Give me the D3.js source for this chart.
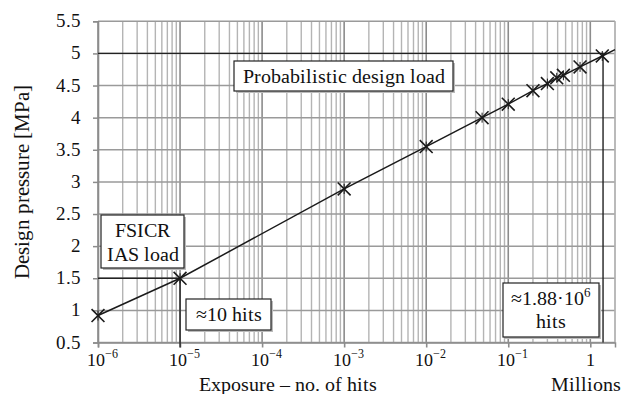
<!DOCTYPE html>
<html><head><meta charset="utf-8">
<script src="https://cdn.jsdelivr.net/npm/d3@7/dist/d3.min.js"></script>
<style>
@font-face { font-family: "ChartSerif"; src: local("Liberation Serif"), local("LiberationSerif"), local("Times New Roman"); }
</style>
</head>
<body style="margin:0">
<script>
// ---- data ----
const exposure = [1e-6, 1e-5, 1e-3, 0.01, 0.048, 0.1, 0.2, 0.3, 0.39, 0.47, 0.75, 1.4, 2.0];
const pressure = [0.92, 1.5, 2.89, 3.55, 4.0, 4.21, 4.42, 4.53, 4.62, 4.66, 4.79, 4.96, 5.06];
const markerCount = 12;
const yTicks = [0.5, 1, 1.5, 2, 2.5, 3, 3.5, 4, 4.5, 5, 5.5];
const yTickLabels = ["0.5","1","1.5","2","2.5","3","3.5","4","4.5","5","5.5"];
const xTickExp = [-6, -5, -4, -3, -2, -1, 0];
const iasExposure = 1e-5, iasPressure = 1.5;
const probExposure = 1.43, probPressure = 5;

const W = 622, H = 394;
const m = {left: 98, right: 615, top: 21.3, bottom: 342.5};
const FAM = '"ChartSerif", "Liberation Serif", "Times New Roman", "Tinos", "Nimbus Roman", "FreeSerif"';
const svg = d3.select("body").append("svg").attr("width", W).attr("height", H)
  .style("font-family", FAM);

function serif(sel, size) {
  return sel.style("font-family", FAM).attr("font-size", size).attr("fill", "#111");
}

const x = d3.scaleLog().domain([1e-6, 2]).range([m.left, m.right]);
const y = d3.scaleLinear().domain([0.5, 5.5]).range([m.bottom, m.top]);

// minor/major vertical grid
const vgrid = [];
for (let e = -6; e <= 0; e++) for (let k = 1; k <= 9; k++) {
  const v = k * Math.pow(10, e);
  if (v <= 2.0001) vgrid.push({v, major: k === 1});
}
const g = svg.append("g");
g.selectAll("line.vg").data(vgrid).join("line")
  .attr("x1", d => x(d.v)).attr("x2", d => x(d.v))
  .attr("y1", m.top).attr("y2", m.bottom)
  .attr("stroke", d => d.major ? "#8c8c8c" : "#b4b4b4")
  .attr("stroke-width", d => d.major ? 1.6 : 1.4);
g.selectAll("line.hg").data(yTicks).join("line")
  .attr("x1", m.left).attr("x2", m.right)
  .attr("y1", d => y(d)).attr("y2", d => y(d))
  .attr("stroke", "#9a9a9a").attr("stroke-width", 1.5);
g.append("line").attr("x1", m.right).attr("x2", m.right).attr("y1", m.top).attr("y2", m.bottom)
  .attr("stroke", "#b4b4b4").attr("stroke-width", 1.4);

// y axis (lines from d3 axis, labels as plain text)
const yAxis = d3.axisLeft(y).tickValues(yTicks).tickFormat("").tickSize(5);
const ya = svg.append("g").attr("transform", `translate(${m.left},0)`).call(yAxis);
ya.select(".domain").attr("stroke", "#8c8c8c").attr("stroke-width", 1.6);
ya.selectAll(".tick line").attr("stroke", "#8c8c8c").attr("stroke-width", 1.5);
yTicks.forEach((v, i) => {
  serif(svg.append("text").attr("x", m.left - 17).attr("y", y(v) + 6).attr("text-anchor", "end"), 19)
    .text(yTickLabels[i]);
});

// x axis
const xAxis = d3.axisBottom(x).tickValues(xTickExp.map(e => Math.pow(10, e))).tickFormat("").tickSize(5);
const xa = svg.append("g").attr("transform", `translate(0,${m.bottom})`).call(xAxis);
xa.select(".domain").attr("stroke", "#8c8c8c").attr("stroke-width", 1.5);
xa.selectAll(".tick line").attr("stroke", "#8c8c8c").attr("stroke-width", 1.6);
xTickExp.forEach(e => {
  const t = serif(svg.append("text").attr("x", x(Math.pow(10, e)) + (e === 0 ? 0 : 4)).attr("y", 366)
    .attr("text-anchor", "middle"), 18);
  if (e === 0) { t.text("1"); }
  else {
    t.append("tspan").text("10");
    t.append("tspan").attr("dy", -8).attr("font-size", 12).text("\u2212" + (-e));
  }
});

// reference lines
const ref = svg.append("g").attr("stroke", "#222").attr("stroke-width", 1.4).attr("fill", "none");
ref.append("path").attr("d", `M${x(1e-6)},${y(iasPressure)}H${x(iasExposure)}V${y(0.5)+5}`);
ref.append("path").attr("d", `M${x(1e-6)},${y(probPressure)}H${x(probExposure)}V${y(0.5)}`);

// data line
const pts = exposure.map((v, i) => [v, pressure[i]]);
svg.append("path").datum(pts)
  .attr("d", d3.line().x(d => x(d[0])).y(d => y(d[1])))
  .attr("fill", "none").attr("stroke", "#1a1a1a").attr("stroke-width", 1.5);
const mk = svg.append("g").selectAll("g").data(pts.slice(0, markerCount)).join("g")
  .attr("transform", d => `translate(${x(d[0])},${y(d[1])})`);
mk.append("path").attr("d", d3.symbol(d3.symbolTimes, 110))
  .attr("fill", "none").attr("stroke", "#1a1a1a").attr("stroke-width", 1.6);
mk.append("path").attr("d", "M0,-5V5")
  .attr("fill", "none").attr("stroke", "#1a1a1a").attr("stroke-width", 1);

// annotation boxes
function box(x0, y0, w, h, lines) {
  const b = svg.append("g");
  b.append("rect").attr("x", x0 + 2).attr("y", y0 + 2).attr("width", w).attr("height", h)
    .attr("fill", "#bbb");
  b.append("rect").attr("x", x0).attr("y", y0).attr("width", w).attr("height", h)
    .attr("fill", "#fff").attr("stroke", "#222").attr("stroke-width", 1.2);
  lines.forEach(l => {
    const t = serif(b.append("text").attr("x", x0 + w / 2).attr("y", l.y).attr("text-anchor", "middle"), 20);
    l.parts.forEach(p => {
      const s = t.append("tspan").text(p.t);
      if (p.sup) s.attr("dy", -8).attr("font-size", 13);
    });
  });
}
box(234, 61, 219, 30, [{y: 83, parts: [{t: "Probabilistic design load"}]}]);
box(101, 215, 83, 53, [{y: 237, parts: [{t: "FSICR"}]}, {y: 261, parts: [{t: "IAS load"}]}]);
box(186, 299, 85, 31, [{y: 321, parts: [{t: "\u224810 hits"}]}]);
box(503, 283, 96, 54, [{y: 305, parts: [{t: "\u22481.88\u00b710"}, {t: "6", sup: true}]}, {y: 328, parts: [{t: "hits"}]}]);

// axis titles
serif(svg.append("text").attr("x", 288).attr("y", 391).attr("text-anchor", "middle"), 20)
  .text("Exposure \u2013 no. of hits");
serif(svg.append("text").attr("x", 621).attr("y", 391).attr("text-anchor", "end"), 20)
  .text("Millions");
serif(svg.append("text").attr("transform", "translate(29,182) rotate(-90)").attr("text-anchor", "middle"), 21)
  .text("Design pressure [MPa]");
</script>
</body></html>
